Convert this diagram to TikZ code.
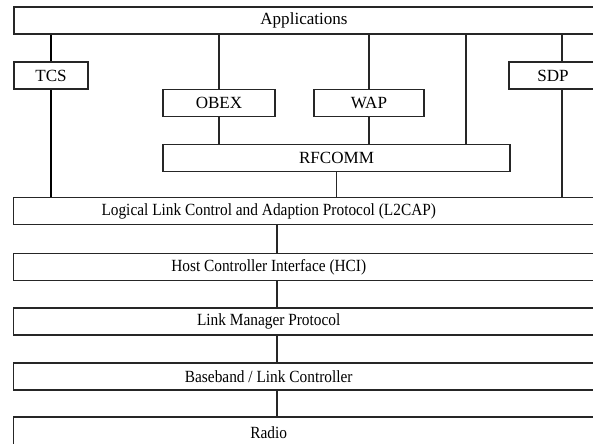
\documentclass[tikz,border=0pt]{standalone}
\usepackage{fontspec}
\setmainfont{Liberation Serif}
\usetikzlibrary{calc}

\tikzset{
  box/.style={draw=black!85, line width=1.1pt, minimum height=20.5pt, inner sep=0pt, font=\fontsize{12.8}{14}\selectfont},
  layer/.style={box, anchor=west, text width=450pt, align=left},
  link/.style={draw=black!85, line width=.8pt},
  thicklink/.style={draw=black, line width=2.2pt}
}
\newcommand{\layertext}[1]{\makebox[382.5pt]{\scalebox{.9}[1]{\spaceskip=0pt\xspaceskip=0pt\relax #1}}}

\begin{document}
\begin{tikzpicture}[x=.75pt, y=-.75pt]
	\useasboundingbox[fill=white] (0,0) rectangle (593,443);
	
	% upper stack
	\node[box, minimum width=435pt] (app) at (304,20.5) {Applications};
	\node[box, minimum width=55.5pt] (tcs) at (51,75.5) {TCS};
	\node[box, minimum width=84pt] (obex) at (219,103) {OBEX};
	\node[box, minimum width=82.5pt] (wap) at (369,103) {WAP};
	\node[box, minimum width=260pt] (rfcomm) at (336.5,158) {RFCOMM};
	\node[box, minimum width=66pt] (sdp) at (553,75.5) {SDP};
	
	% lower layers
	\node[layer] (l2cap) at (13,211) {\layertext{Logical Link Control and Adaption Protocol (L2CAP)}};
	\node[layer] (hci) at (13,267) {\layertext{Host Controller Interface (HCI)}};
	\node[layer] (lmp) at (13,321.5) {\layertext{Link Manager Protocol}};
	\node[layer] (bb) at (13,376.5) {\layertext{Baseband / Link Controller}};
	\node[layer, minimum height=24pt] (radio) at (13,433) {\layertext{Radio}};
	
	\coordinate (rf) at (466,0);
	\coordinate (sd) at (562,0);
	\coordinate (spine) at (277,0);
	
	% connectors
	\draw[thicklink] (tcs.north) -- (tcs.north |- app.south);
	\draw[thicklink] (tcs.south) -- (tcs.south |- l2cap.north);
	\draw[link] (obex.north) -- (obex.north |- app.south);
	\draw[link] (obex.south) -- (obex.south |- rfcomm.north);
	\draw[link] (wap.north) -- (wap.north |- app.south);
	\draw[link] (wap.south) -- (wap.south |- rfcomm.north);
	\draw[link] (rf |- app.south) -- (rf |- rfcomm.north);
	\draw[link] (rfcomm.south) -- (rfcomm.south |- l2cap.north);
	\draw[link] (sd |- app.south) -- (sd |- sdp.north);
	\draw[link] (sd |- sdp.south) -- (sd |- l2cap.north);
	
	\draw[link] (spine |- l2cap.south) -- (spine |- hci.north);
	\draw[link] (spine |- hci.south) -- (spine |- lmp.north);
	\draw[link] (spine |- lmp.south) -- (spine |- bb.north);
	\draw[link] (spine |- bb.south) -- (spine |- radio.north);
\end{tikzpicture}
\end{document}
